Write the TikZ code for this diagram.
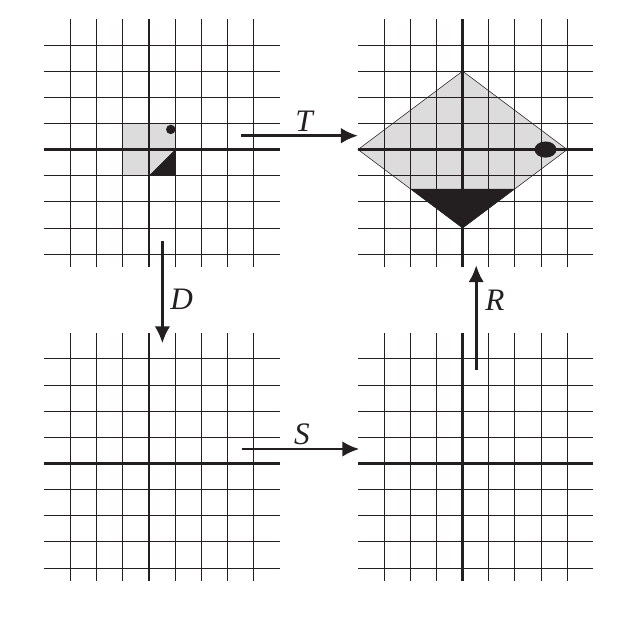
\documentclass[tikz,border=0pt]{standalone}
\usepackage{fontspec}
\setmainfont{Liberation Serif}
\usetikzlibrary{arrows.meta}
\definecolor{ink}{HTML}{231F20}
\definecolor{shade}{HTML}{DCDCDC}
\tikzset{
  gridline/.style={line width=0.9pt, draw=ink},
  axisline/.style={line width=2.7pt, draw=ink},
  maparrow/.style={line width=3.2pt, draw=ink, -{Latex[length=18.5pt,width=17pt]}},
  maplabel/.style={font=\fontsize{34}{36}\selectfont\itshape, text=ink, inner sep=0pt},
  lightfill/.style={fill=shade},
  darkfill/.style={fill=ink}
}
\begin{document}
\begin{tikzpicture}[x=1cm,y=1cm]
\useasboundingbox (-5.69,-17.99) rectangle (18.86,5.72);
% shapes under the grid (top-left)
\fill[lightfill] (-1,-1) rectangle (1,1);
% shapes under the grid (top-right)
\fill[lightfill] (8,0) -- (12,3) -- (16,0) -- (12,-3) -- cycle;
% the four grids
\foreach \ox/\oy/\nm in {0/0/tl, 12/0/tr, 0/-12/bl, 12/-12/br}{
  \begin{scope}[shift={(\ox,\oy)}]
    \foreach \i in {-3,-2,-1,1,2,3,4} \draw[gridline] (\i,-4.5) -- (\i,5);
    \foreach \j in {-4,-3,-2,-1,1,2,3,4} \draw[gridline] (-4,\j) -- (5,\j);
    \draw[axisline] (0,-4.5) -- (0,5);
    \draw[axisline] (-4,0) -- (5,0);
    \coordinate (\nm) at (0,0);
  \end{scope}
}
% top-left figure details
\fill[darkfill] (0,-1) -- (1,-1) -- (1,0) -- cycle;
\fill[ink] (0.84,0.77) circle (0.18);
% top-right figure details
\draw[line width=0.6pt, draw=ink] (8,0) -- (12,3) -- (16,0) -- (12,-3) -- cycle;
\fill[darkfill] (10,-1.5) -- (14,-1.5) -- (12,-3) -- cycle;
\fill[ink] (15.17,0) ellipse (0.42 and 0.31);
% arrows
\coordinate (tA) at (3.53,0.53);
\coordinate (tB) at (8,0.53);
\coordinate (sA) at (3.55,-11.45);
\coordinate (sB) at (8.05,-11.45);
\coordinate (dA) at (0.52,-3.5);
\coordinate (dB) at (0.52,-7.41);
\coordinate (rA) at (12.52,-8.43);
\coordinate (rB) at (12.52,-4.42);
\draw[maparrow] (tA) -- (tB);
\draw[maparrow] (sA) -- (sB);
\draw[maparrow] (dA) -- (dB);
\draw[maparrow] (rA) -- (rB);
\node[maplabel] (lT) at (5.94,1.1) {T};
\node[maplabel] (lS) at (5.86,-10.88) {S};
\node[maplabel] (lD) at (1.26,-5.72) {D};
\node[maplabel] (lR) at (13.24,-5.75) {R};
\end{tikzpicture}
\end{document}
